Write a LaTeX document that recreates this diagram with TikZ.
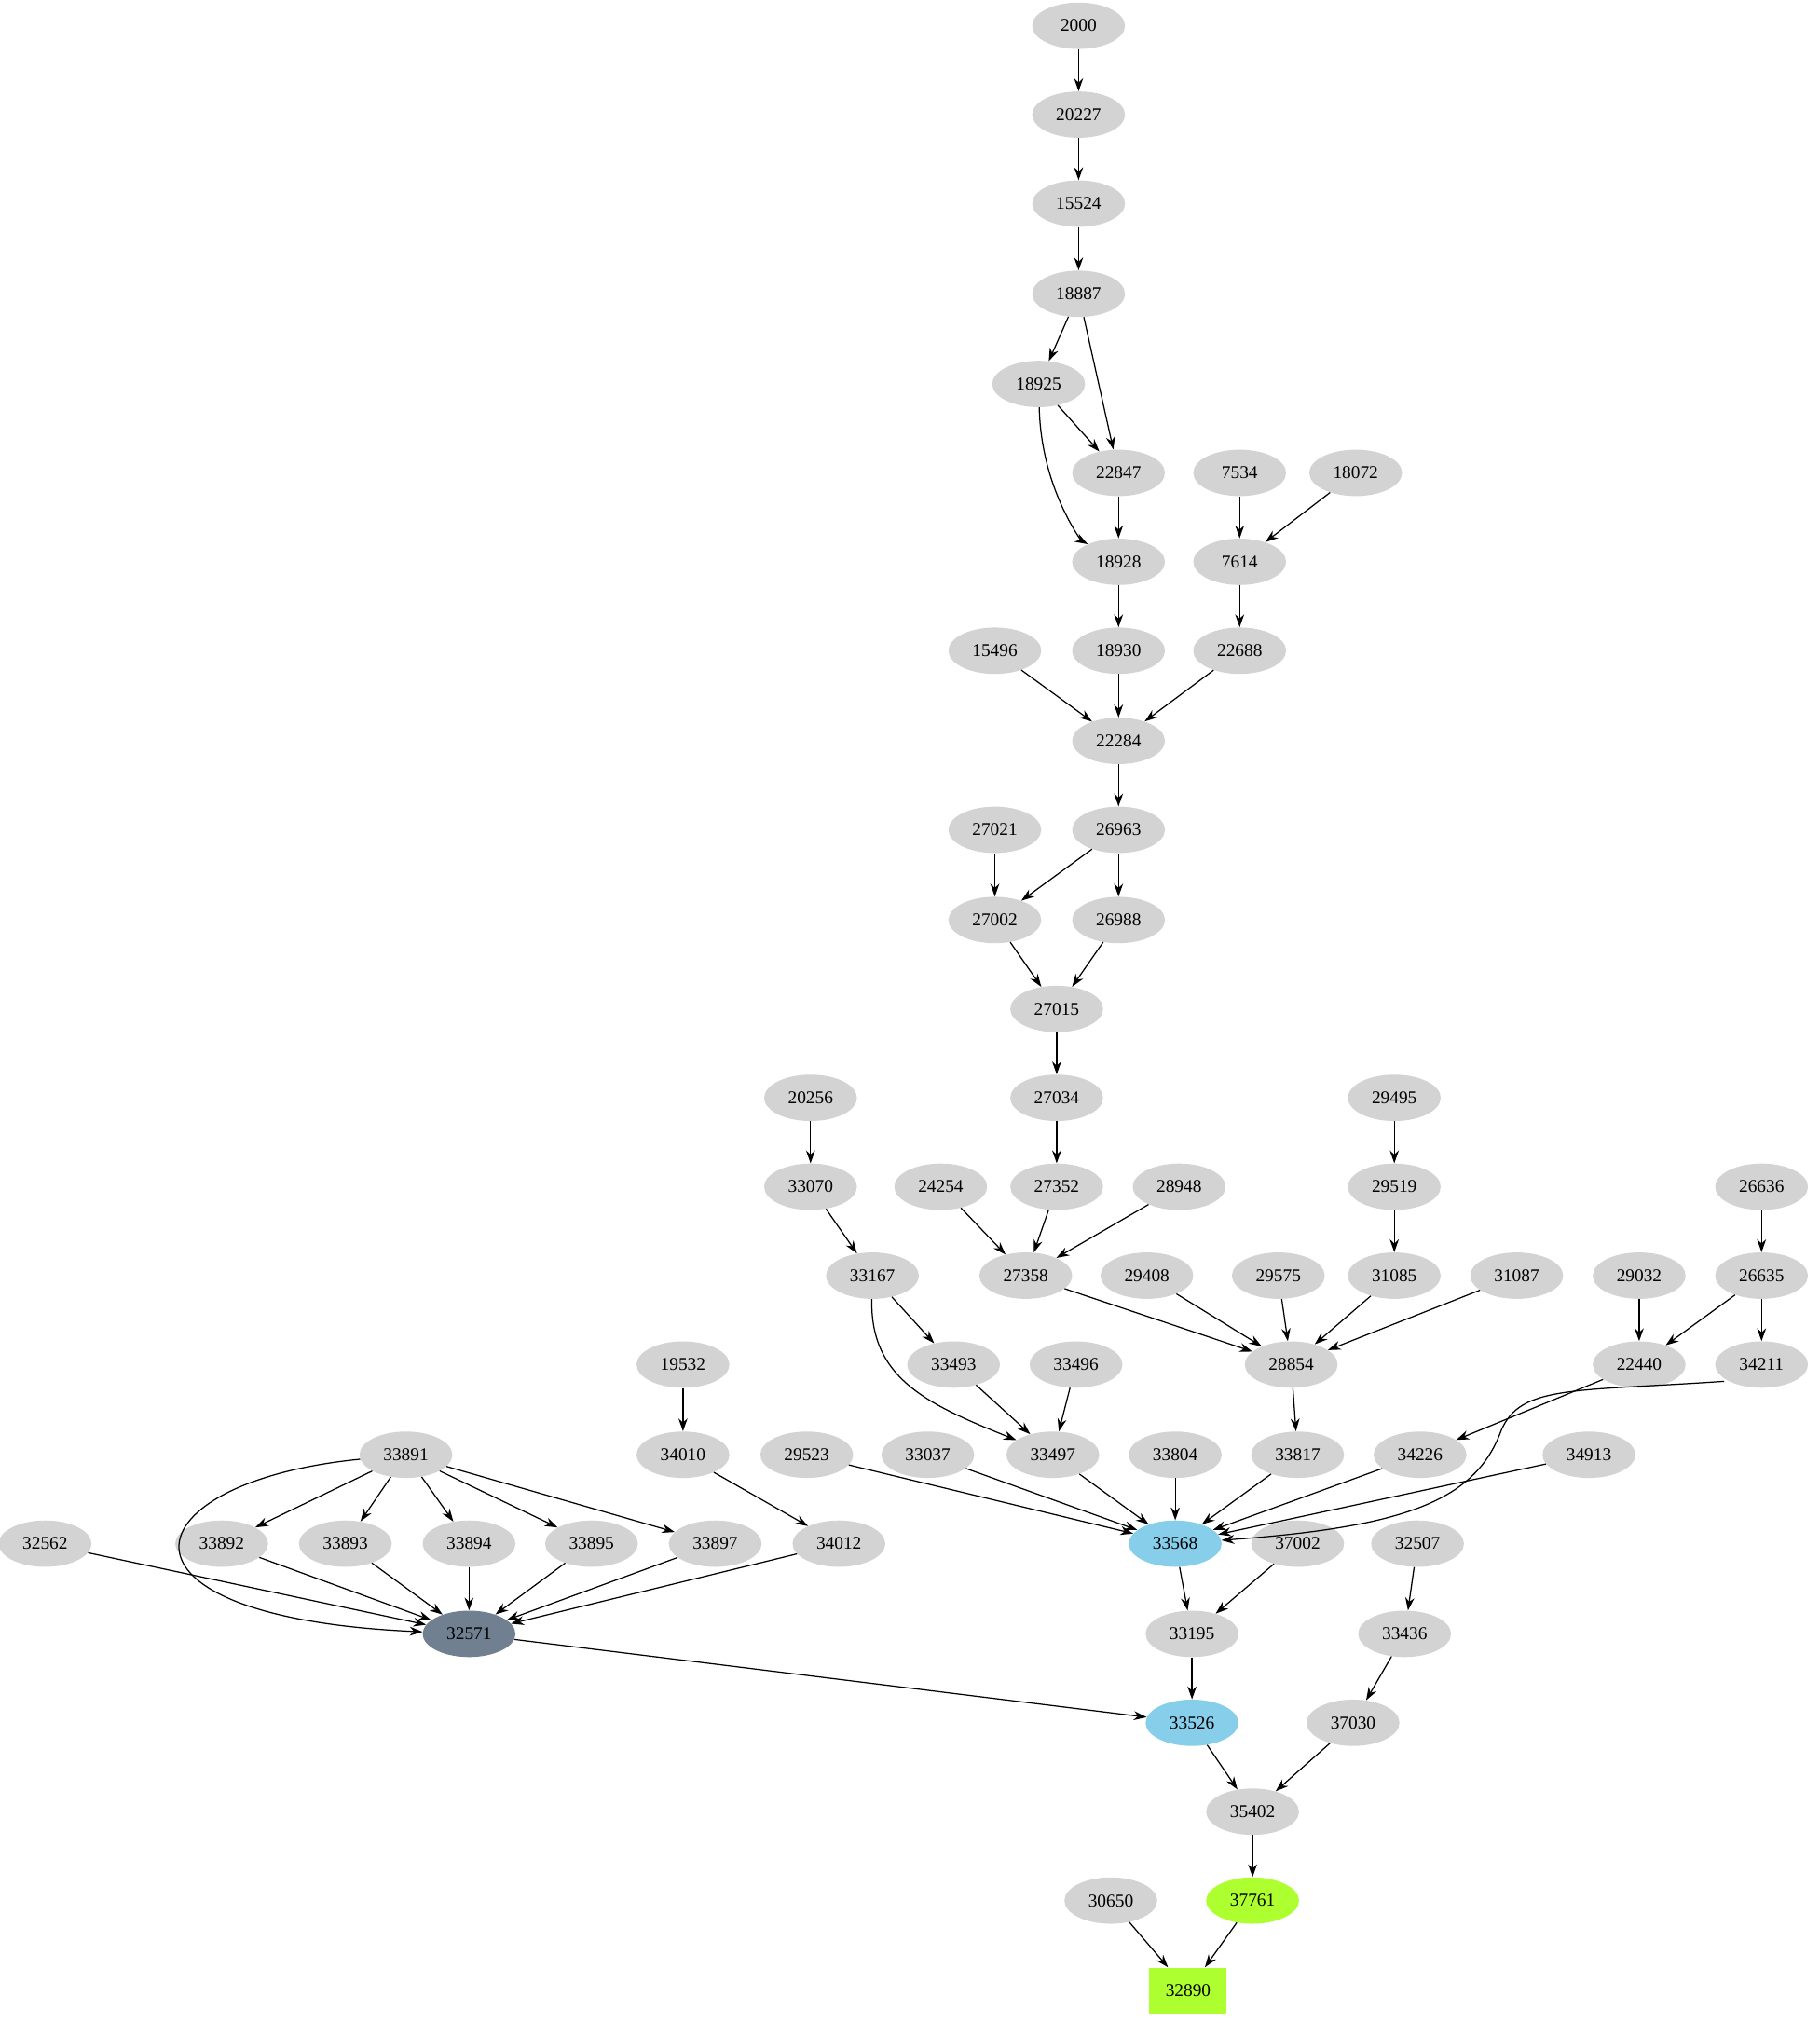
\documentclass[tikz,border=0pt]{standalone}
\usepackage{fontspec}
\setmainfont{Liberation Serif}
\usetikzlibrary{shapes.geometric,arrows.meta}
\definecolor{lg}{HTML}{D3D3D3}
\definecolor{sb}{HTML}{87CEEB}
\definecolor{sg}{HTML}{708090}
\definecolor{gy}{HTML}{ADFF2F}
\begin{document}
\begin{tikzpicture}[x=1pt,y=-1pt,
  nd/.style={ellipse,fill=lg,minimum width=72pt,minimum height=36pt,inner sep=0pt,font=\fontsize{14}{16}\selectfont},
  e/.style={-{Stealth[length=10pt,width=7pt]},line width=0.9pt}]
\useasboundingbox (0,0) rectangle (1412,1570);
\foreach \n/\x/\y in {2000/837/20,20227/837/89,15524/837/158,18887/837/228,18925/806/298,22847/868/367,7534/962/367,18072/1052/367,18928/868/436,7614/962/436,18930/868/505,22688/962/505,15496/772/505,22284/868/575,26963/868/644,27021/772/644,27002/772/714,26988/868/714,27015/820/783,27034/820/852,20256/629/852,29495/1082/852,33070/629/921,24254/730/921,27352/820/921,28948/915/921,29519/1082/921,26636/1367/921,33167/677/990,27358/796/990,29408/890/990,29575/992/990,31085/1082/990,31087/1177/990,29032/1272/990,26635/1367/990,19532/530/1059,33493/740/1059,33496/835/1059,28854/1002/1059,22440/1272/1059,34211/1367/1059,33891/315/1129,34010/530/1129,29523/626/1129,33037/720/1129,33497/817/1129,33804/912/1129,33817/1007/1129,34226/1102/1129,34913/1233/1129,32562/35/1198,33892/172/1198,33893/268/1198,33894/364/1198,33895/459/1198,33897/555/1198,34012/651/1198,37002/1007/1198,32507/1100/1198,33195/925/1268,33436/1090/1268,37030/1050/1337,35402/972/1406,30650/862/1475}
  \node[nd] (n\n) at (\x,\y) {\n};
\node[nd,fill=sb] (n33568) at (912,1198) {33568};
\node[nd,fill=sg] (n32571) at (364,1268) {32571};
\node[nd,fill=sb] (n33526) at (925,1337) {33526};
\node[nd,fill=gy] (n37761) at (972,1475) {37761};
\node[rectangle,fill=gy,minimum width=60pt,minimum height=36pt,font=\fontsize{14}{16}\selectfont] (n32890) at (922,1545) {32890};
\foreach \a/\b in {2000/20227,20227/15524,15524/18887,18887/18925,18887/22847,18925/22847,22847/18928,7534/7614,18072/7614,18928/18930,7614/22688,15496/22284,18930/22284,22688/22284,22284/26963,27021/27002,26963/27002,26963/26988,27002/27015,26988/27015,27015/27034,27034/27352,20256/33070,29495/29519,26636/26635,33070/33167,24254/27358,27352/27358,28948/27358,29519/31085,27358/28854,29408/28854,29575/28854,31085/28854,31087/28854,29032/22440,26635/22440,26635/34211,33167/33493,33493/33497,33496/33497,19532/34010,28854/33817,22440/34226,33891/33892,33891/33893,33891/33894,33891/33895,33891/33897,34010/34012,29523/33568,33037/33568,33497/33568,33804/33568,33817/33568,34226/33568,34913/33568,32562/32571,33892/32571,33893/32571,33894/32571,33895/32571,33897/32571,34012/32571,33568/33195,37002/33195,32507/33436,33195/33526,32571/33526,33436/37030,33526/35402,37030/35402,35402/37761,30650/32890,37761/32890}
  \draw[e] (n\a) -- (n\b);
\draw[e] (n18925) .. controls (808,380) and (840,420) .. (n18928);
\draw[e] (n33167) .. controls (675,1070) and (720,1090) .. (n33497);
\draw[e] (n33891) .. controls (100,1150) and (70,1255) .. (n32571);
\draw[e] (1338,1072) .. controls (1220,1080) and (1180,1075) .. (1165,1110) .. controls (1145,1165) and (1090,1185) .. (n33568);
\end{tikzpicture}
\end{document}
